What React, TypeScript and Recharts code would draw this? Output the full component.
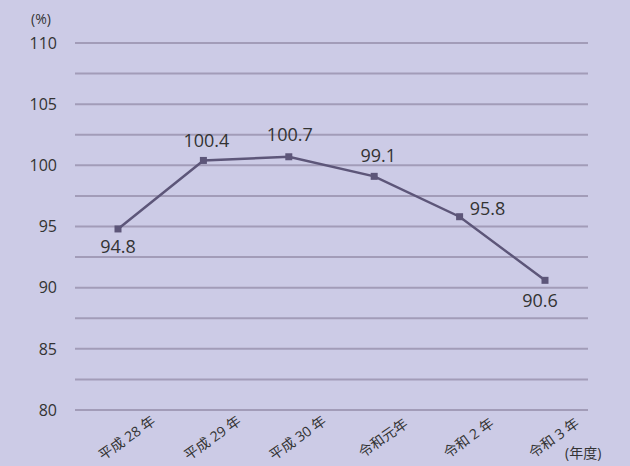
import { LineChart, Line, XAxis, YAxis, ReferenceLine, LabelList } from "recharts";

const years = ["平成 28 年", "平成 29 年", "平成 30 年", "令和元年", "令和 2 年", "令和 3 年"];
const rates = [94.8, 100.4, 100.7, 99.1, 95.8, 90.6];
const yTicks = [80, 85, 90, 95, 100, 105, 110];
const gridValues = [80, 82.5, 85, 87.5, 90, 92.5, 95, 97.5, 100, 102.5, 105, 107.5, 110];

// where each value label sits relative to its point
const labelSpots = [
  { dx: 0, dy: 18 },
  { dx: 3, dy: -20 },
  { dx: 1, dy: -22 },
  { dx: 4, dy: -21 },
  { dx: 28, dy: -8 },
  { dx: -5, dy: 20 },
];

const data = years.map((year, i) => ({ year, rate: rates[i] }));

const BG = "#cccbe6";
const TEXT = "#333";
const LINE = "#5d5679";
const FONT = "'Open Sans', 'Noto Sans CJK JP', sans-serif";

function YearTick(props: any) {
  const { x, y, payload } = props;
  const cx = x + 9;
  const cy = y + 20;
  return (
    <text
      x={cx}
      y={cy}
      dy="0.35em"
      textAnchor="middle"
      fontSize={14}
      fill={TEXT}
      fontFamily={FONT}
      transform={`rotate(-35, ${cx}, ${cy})`}
    >
      {payload.value}
    </text>
  );
}

function ValueLabel(props: any) {
  const { x, y, value, index } = props;
  const spot = labelSpots[index] ?? { dx: 0, dy: -20 };
  return (
    <text
      x={x + spot.dx}
      y={y + spot.dy}
      dy="0.35em"
      textAnchor="middle"
      fontSize={18}
      fill={TEXT}
      fontFamily={FONT}
    >
      {Number(value).toFixed(1)}
    </text>
  );
}

function SquareDot(props: any) {
  const { cx, cy } = props;
  if (cx == null || cy == null) return null;
  return <rect x={cx - 3.5} y={cy - 3.5} width={7} height={7} fill={LINE} />;
}

export default function App() {
  return (
    <div style={{ position: "absolute", left: 0, top: 0, width: 630, height: 466, background: BG, fontFamily: FONT }}>
      <LineChart width={630} height={466} data={data} margin={{ top: 43, right: 42, left: 0, bottom: 0 }}>
        {gridValues.map((v) => (
          <ReferenceLine key={v} y={v} stroke="#a29cb8" strokeWidth={2} />
        ))}
        <XAxis
          dataKey="year"
          height={56}
          axisLine={false}
          tickLine={false}
          interval={0}
          padding={{ left: 43, right: 43 }}
          tick={<YearTick />}
        />
        <YAxis
          domain={[80, 110]}
          ticks={yTicks}
          width={75}
          axisLine={false}
          tickLine={false}
          tickMargin={12}
          tick={{ fontSize: 16, fill: TEXT, fontFamily: FONT }}
        />
        <Line
          type="linear"
          dataKey="rate"
          stroke={LINE}
          strokeWidth={2.5}
          dot={<SquareDot />}
          activeDot={false}
          isAnimationActive={false}
        >
          <LabelList dataKey="rate" content={<ValueLabel />} />
        </Line>
      </LineChart>
      <div style={{ position: "absolute", left: 31, top: 9, fontSize: 14, color: TEXT }}>(%)</div>
      <div style={{ position: "absolute", left: 565, top: 442, fontSize: 14, color: TEXT }}>(年度)</div>
    </div>
  );
}
